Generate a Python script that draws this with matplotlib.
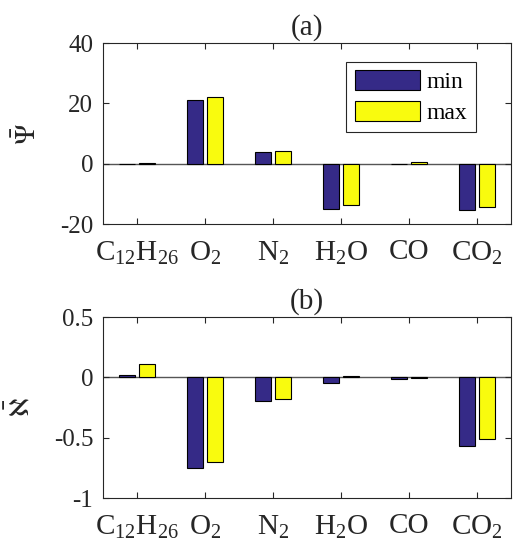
import matplotlib
matplotlib.use("Agg")
import matplotlib.pyplot as plt
import numpy as np

species = [r"C$_{12}$H$_{26}$", r"O$_2$", r"N$_2$", r"H$_2$O", "CO", r"CO$_2$"]
series_names = ["min", "max"]

psi_min = [-0.1, 21.0, 3.9, -14.9, -0.2, -15.5]
psi_max = [0.3, 22.1, 4.2, -13.6, 0.4, -14.4]

aleph_min = [0.019, -0.75, -0.195, -0.044, -0.010, -0.573]
aleph_max = [0.11, -0.70, -0.18, 0.008, -0.005, -0.51]

psi_ticks = [-20, 0, 20, 40]
aleph_ticks = [-1, -0.5, 0, 0.5]
aleph_ticklabels = ["-1", "-0.5", "0", "0.5"]

c_min = "#352A87"
c_max = "#F9FB0E"
axis_gray = "#262626"

plt.rcParams["font.family"] = ["Liberation Serif", "DejaVu Serif"]
plt.rcParams["mathtext.fontset"] = "custom"
plt.rcParams["mathtext.rm"] = "Liberation Serif"
plt.rcParams["mathtext.it"] = "Liberation Serif:italic"
plt.rcParams["mathtext.bf"] = "Liberation Serif:bold"

fs = 18
fs_x = 21
fig = plt.figure(figsize=(5.13, 5.48), dpi=100)
ax1 = fig.add_axes([0.2008, 0.5912, 0.795, 0.3303])
ax2 = fig.add_axes([0.2008, 0.0912, 0.795, 0.3303])

x = np.arange(1, len(species) + 1)
off = 0.147
w = 0.232


def style(ax, ylim, yticks, yticklabels, ylabel, title, label_x):
    ax.set_xlim(0.5, 6.5)
    ax.set_ylim(*ylim)
    ax.axhline(0, color="#555555", lw=1.0, zorder=1)
    ax.set_xticks(x)
    ax.set_xticklabels(species, fontsize=fs_x)
    ax.set_yticks(yticks)
    ax.set_yticklabels(yticklabels, fontsize=fs)
    ax.tick_params(direction="in", top=True, right=True, length=4,
                   color=axis_gray, labelcolor=axis_gray, width=0.8)
    ax.tick_params(axis="x", pad=11)
    ax.tick_params(axis="y", pad=7)
    for s in ax.spines.values():
        s.set_color(axis_gray)
        s.set_linewidth(0.8)
    ax.set_ylabel(ylabel, fontsize=20, color=axis_gray, math_fontfamily="stix")
    ax.yaxis.set_label_coords(label_x, 0.5)
    ax.set_title(title, fontsize=21, color=axis_gray, pad=6)


ax1.bar(x - off, psi_min, w, color=c_min, edgecolor="black", lw=0.8,
        label=series_names[0], zorder=2)
ax1.bar(x + off, psi_max, w, color=c_max, edgecolor="black", lw=0.8,
        label=series_names[1], zorder=2)
style(ax1, (-20, 40), psi_ticks, [str(t) for t in psi_ticks],
      r"$\bar{\Psi}$", "(a)", -0.15)
leg = ax1.legend(loc="upper right", bbox_to_anchor=(0.914, 0.895),
                 borderaxespad=0, fontsize=17, fancybox=False,
                 handlelength=2.75, handleheight=0.9, handletextpad=0.3,
                 labelspacing=0.33, borderpad=0.35, framealpha=1)
leg.get_frame().set_edgecolor(axis_gray)
leg.get_frame().set_linewidth(0.8)

ax2.bar(x - off, aleph_min, w, color=c_min, edgecolor="black", lw=0.8, zorder=2)
ax2.bar(x + off, aleph_max, w, color=c_max, edgecolor="black", lw=0.8, zorder=2)
style(ax2, (-1, 0.5), aleph_ticks, aleph_ticklabels,
      r"$\bar{\aleph}$", "(b)", -0.165)

fig.savefig("out.png", dpi=100)
